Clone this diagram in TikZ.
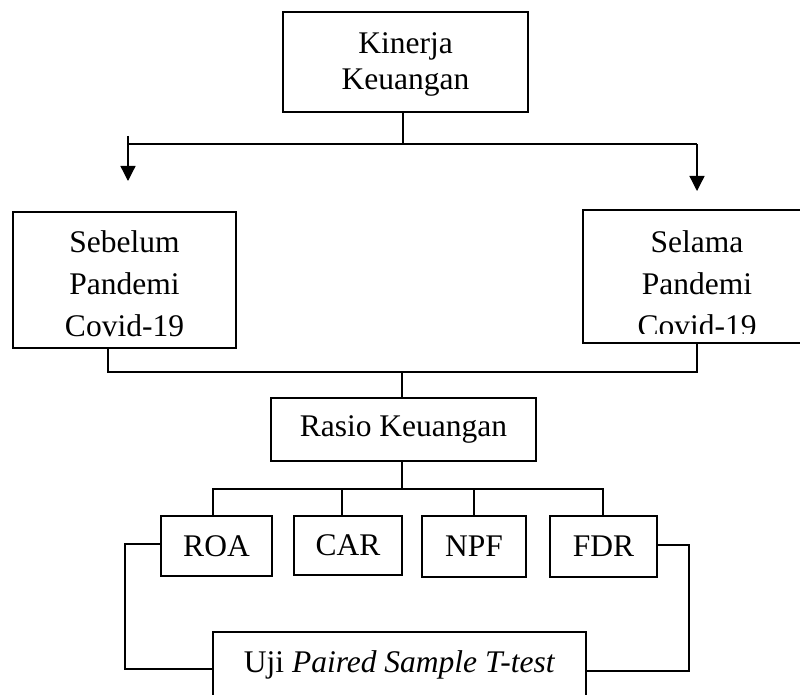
\documentclass[tikz,border=0pt]{standalone}
\usepackage{fontspec}
\setmainfont{Liberation Serif}
\usetikzlibrary{arrows.meta}
\begin{document}
\begin{tikzpicture}[x=1pt,y=-1pt,
  box/.style={draw, line width=1.6pt, inner sep=0pt,
    font=\fontsize{31.5}{42}\selectfont},
  txt/.style={align=center, inner sep=0pt, font=\fontsize{31.5}{42}\selectfont},
  link/.style={line width=1.3pt},
  down/.style={link, -{Triangle[width=15pt,length=15pt]}}]
\useasboundingbox (0,0) rectangle (800,695);
\clip (0,0) rectangle (800,695);

% boxes
\node[box, minimum width=245pt, minimum height=100pt] (kin) at (405.5,62) {};
\node[box, minimum width=223pt, minimum height=136pt] (seb) at (124.5,280) {};
\node[box, minimum width=228pt, minimum height=133pt] (sel) at (697,276.5) {};
\node[box, minimum width=265pt, minimum height=63pt] (ras) at (403.5,429.5) {Rasio Keuangan};
\node[box, minimum width=111pt, minimum height=60pt] (roa) at (216.5,546) {ROA};
\node[box, minimum width=108pt, minimum height=59pt] (car) at (348,545.5) {CAR};
\node[box, minimum width=104pt, minimum height=61pt] (npf) at (474,546.5) {NPF};
\node[box, minimum width=107pt, minimum height=61pt] (fdr) at (603.5,546.5) {FDR};
\node[box, minimum width=373pt, minimum height=80pt] (uji) at (399.5,672) {};

% box texts
\node[txt, font=\fontsize{31.5}{36}\selectfont] (kin-t) at (405.5,64) {Kinerja\\Keuangan};
\node[txt] (seb-t) at (124.5,284) {Sebelum\\Pandemi\\Covid-19};
\begin{scope}
  \clip (583,210) rectangle (811,333);
  \node[txt] (sel-t) at (697,283.5) {Selama\\Pandemi\\Covid-19};
\end{scope}
\node[txt, anchor=base] (uji-t) at (399.5,672) {Uji \textit{Paired Sample T-test}};

% split below the top box
\coordinate (jtop) at (403,144);
\coordinate (lt) at (128,144);
\coordinate (rt) at (697,144);
\coordinate (la) at (128,136);
\coordinate (latip) at (128,181);
\coordinate (ratip) at (697,191);
\draw[link] (kin.south -| jtop) -- (jtop);
\draw[link] (lt) -- (rt);
\draw[down] (la) -- (latip);
\draw[down] (rt) -- (ratip);

% merge into the ratio box
\coordinate (sb) at (108,372);
\coordinate (slb) at (697,372);
\coordinate (mid) at (402,372);
\draw[link] (seb.south -| sb) -- (sb) -- (slb) -- (sel.south -| slb);
\draw[link] (mid) -- (ras.north -| mid);

% ratio branches
\coordinate (rj) at (402,489);
\coordinate (b1) at (213,489);
\coordinate (b2) at (342,489);
\coordinate (b3) at (474,489);
\coordinate (b4) at (603,489);
\draw[link] (ras.south -| rj) -- (rj);
\draw[link] (roa.north -| b1) -- (b1) -- (b4) -- (fdr.north -| b4);
\draw[link] (b2) -- (car.north -| b2);
\draw[link] (b3) -- (npf.north -| b3);

% brackets to the test box
\coordinate (lb1) at (125,544);
\coordinate (lb2) at (125,669);
\coordinate (rb1) at (689,545);
\coordinate (rb2) at (689,671);
\draw[link] (roa.west |- lb1) -- (lb1) -- (lb2) -- (uji.west |- lb2);
\draw[link] (fdr.east |- rb1) -- (rb1) -- (rb2) -- (uji.east |- rb2);
\end{tikzpicture}
\end{document}
